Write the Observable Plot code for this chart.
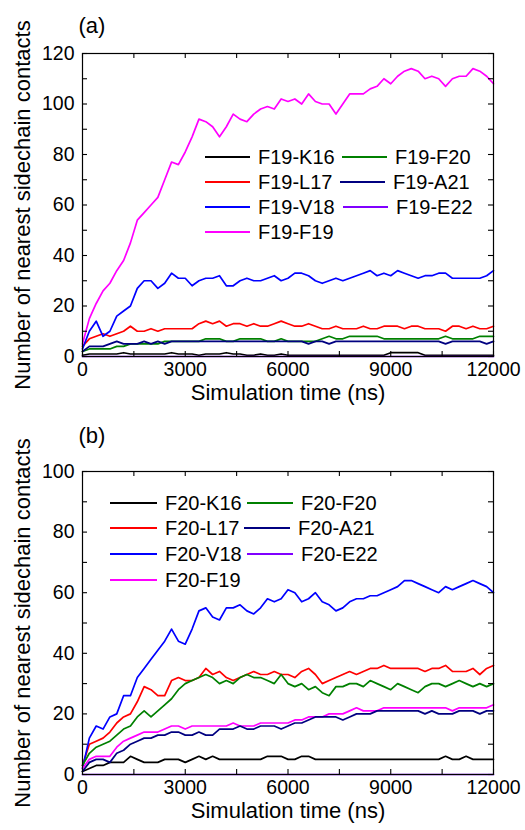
<!DOCTYPE html>
<html><head><meta charset="utf-8">
<script src="https://cdn.jsdelivr.net/npm/d3@7"></script>
<script src="https://cdn.jsdelivr.net/npm/@observablehq/plot@0.6"></script>
<style>
body{margin:0;background:#fff;font-family:"Liberation Sans",Arial,sans-serif;}
#wrap{position:relative;width:525px;height:830px;overflow:hidden;}
.panel{position:absolute;left:0;width:525px;}
.leg{position:absolute;font-size:20px;display:flex;align-items:center;white-space:nowrap;height:24px;color:#000;}
.leg .sw{display:inline-block;height:2px;margin-right:8px;}
</style></head><body><div id="wrap"></div>
<script>
const time = [0,200,400,600,800,1000,1200,1400,1600,1800,
  2000,2200,2400,2600,2800,3000,3200,3400,3600,3800,
  4000,4200,4400,4600,4800,5000,5200,5400,5600,5800,
  6000,6200,6400,6600,6800,7000,7200,7400,7600,7800,
  8000,8200,8400,8600,8800,9000,9200,9400,9600,9800,
  10000,10200,10400,10600,10800,11000,11200,11400,11600,11800,12000];

// Panel (a): F19 contacts
const a_K16 = [0.5,1,1,1,1,1,1.5,1,1,1, 1,1,1,1.5,1,1,1,0.5,1,1, 1,1.5,1,1,0.5,0.5,1,0.5,0.5,1,
  0.5,0.5,0.5,0.5,0.5,0.5,0.5,0.5,0.5,0.5, 0.5,0.5,0.5,0.5,0.5,1.5,1.5,1.5,1.5,1.5, 0.5,0.5,0.5,0.5,0.5,0.5,0.5,0.5,0.5,0.5, 0.5];
const a_L17 = [4,7,8,9,8,9,10,12,10,10, 11,10,11,11,11,11,11,13,14,13, 14,12,13,13,12,13,12,12,13,14,
  13,12,12,13,12,11,11,12,11,11, 11,12,11,11,12,12,12,11,12,12, 11,11,11,10,12,12,11,12,11,11, 12];
const a_V18 = [3,10,14,8,10,16,18,20,27,30, 30,27,29,33,31,31,28,30,31,31, 32,28,28,30,31,30,30,31,32,30,
  31,33,33,32,30,29,30,31,30,31, 32,33,34,32,33,32,34,33,32,31, 32,32,33,33,31,31,31,31,31,32, 34];
const a_F19 = [5,15,21,26,29,34,38,45,54,57, 60,63,70,77,76,81,87,94,93,91, 87,91,96,94,93,96,98,99,98,102,
  101,102,100,104,101,100,100,96,100,104, 104,104,106,107,110,108,111,113,114,113, 110,111,110,107,110,111,111,114,113,111, 108];
const a_F20 = [2,3,3,3,3,4,4,5,5,5, 5,5,6,6,6,6,6,6,7,7, 7,6,6,7,7,7,7,6,6,7,
  6,6,6,6,6,7,8,7,7,8, 8,8,8,8,7,7,7,7,7,7, 7,7,7,8,7,7,7,7,8,8, 8];
const a_A21 = [2,4,4,4,5,6,5,5,5,6, 5,6,5,6,6,6,6,6,6,6, 6,6,6,6,6,6,6,6,6,6,
  6,6,6,5,6,6,5,6,6,6, 6,6,6,6,6,6,6,6,6,6, 6,6,6,5,6,6,6,6,6,5, 6];
const a_E22 = [0,0,0,0,0,0,0,0,0,0, 0,0,0,0,0,0,0,0,0,0, 0,0,0,0,0,0,0,0,0,0,
  0,0,0,0,0,0,0,0,0,0, 0,0,0,0,0,0,0,0,0,0, 0,0,0,0,0,0,0,0,0,0, 0];

// Panel (b): F20 contacts
const b_K16 = [1,2,3,3,4,4,4,6,5,4, 4,4,5,5,5,4,5,6,5,6, 5,5,5,5,5,5,5,6,6,6,
  5,5,6,6,5,5,5,5,5,5, 5,5,5,5,5,5,5,5,5,5, 5,5,5,6,5,5,6,5,5,5, 5];
const b_L17 = [3,10,11,12,14,17,19,20,24,29, 28,26,26,31,32,31,31,32,35,33, 34,32,31,32,33,34,33,33,34,33,
  33,32,34,35,33,30,31,32,33,34, 33,34,35,35,36,35,35,35,35,35, 34,35,35,36,34,34,34,35,33,35, 36];
const b_V18 = [2,12,16,15,19,20,26,26,32,35, 38,41,44,48,44,43,48,54,55,52, 51,55,55,56,54,53,55,58,57,58,
  61,60,57,58,60,57,56,54,55,57, 58,58,59,59,60,61,62,64,64,63, 62,61,60,62,61,62,63,64,63,62, 60];
const b_F19 = [2,5,6,6,6,9,11,12,13,14, 14,14,15,16,16,15,16,16,16,16, 16,16,17,16,16,16,17,17,17,17,
  17,18,18,19,19,19,20,20,20,21, 22,21,21,21,22,22,22,22,22,22, 22,22,22,22,21,22,22,22,22,22, 23];
const b_F20 = [3,7,9,10,11,13,15,16,19,21, 19,21,23,25,28,30,31,32,33,32, 30,31,30,32,33,32,32,31,30,33,
  30,29,30,28,29,27,26,29,29,30, 30,29,31,30,29,28,30,29,28,27, 29,30,30,29,30,31,30,29,30,29, 30];
const b_A21 = [1,4,5,5,4,7,8,10,11,12, 12,13,13,14,14,13,13,14,13,13, 15,15,15,16,15,15,16,16,16,15,
  16,17,17,18,19,19,19,19,18,19, 20,20,20,21,21,21,21,21,21,21, 20,21,20,20,20,21,21,21,20,21, 21];
const b_E22 = [0,0,0,0,0,0,0,0,0,0, 0,0,0,0,0,0,0,0,0,0, 0,0,0,0,0,0,0,0,0,0,
  0,0,0,0,0,0,0,0,0,0, 0,0,0,0,0,0,0,0,0,0, 0,0,0,0,0,0,0,0,0,0, 0];

const namesA = ["F19-K16","F19-L17","F19-V18","F19-F19","F19-F20","F19-A21","F19-E22"];
const namesB = ["F20-K16","F20-L17","F20-V18","F20-F19","F20-F20","F20-A21","F20-E22"];
const seriesColors = ["#000000","#ff0000","#0000ff","#ff00ff","#008000","#000080","#8000ff"];

const xLabelTicks = [0,3000,6000,9000,12000];
const xMinorTicks = [0,1500,3000,4500,6000,7500,9000,10500,12000];
const yLabelTicksA = [0,20,40,60,80,100,120];
const yMinorTicksA = [0,10,20,30,40,50,60,70,80,90,100,110,120];
const yLabelTicksB = [0,20,40,60,80,100];
const yMinorTicksB = [0,10,20,30,40,50,60,70,80,90,100];

function tidy(names, arrays){
  const rows = [];
  names.forEach((n,i)=>arrays[i].forEach((v,j)=>rows.push({name:n, t:time[j], v})));
  return rows;
}

const W = 525, H = 415, ML = 82, MR = 32;
function panel(opts){
  const pw = W - ML - MR, ph = H - opts.mt - opts.mb;
  const TL = 5;
  return Plot.plot({
    width: W, height: H,
    marginLeft: ML, marginRight: MR, marginTop: opts.mt, marginBottom: opts.mb,
    style: {fontFamily: "'Liberation Sans', Arial, sans-serif", color: "#000", background: "#fff", overflow: "visible"},
    x: {domain: [0, 12000]},
    y: {domain: [0, opts.ymax]},
    color: {domain: opts.names, range: seriesColors},
    marks: [
      Plot.line(opts.data, {x: "t", y: "v", z: "name", stroke: "name", strokeWidth: 1.7, strokeLinejoin: "round"}),
      Plot.frame({stroke: "#000", strokeWidth: 1.2}),
      Plot.tickY(opts.yMinor, {y: d => d, insetRight: pw - TL, stroke: "#000", strokeWidth: 1.1}),
      Plot.tickY(opts.yMinor, {y: d => d, insetLeft: pw - TL, stroke: "#000", strokeWidth: 1.1}),
      Plot.tickX(xMinorTicks, {x: d => d, insetTop: ph - TL, stroke: "#000", strokeWidth: 1.1}),
      Plot.tickX(xMinorTicks, {x: d => d, insetBottom: ph - TL, stroke: "#000", strokeWidth: 1.1}),
      Plot.axisY(opts.yLabels, {tickSize: 0, tickPadding: 8, label: null, fontSize: 19.5}),
      Plot.axisX(xLabelTicks, {tickSize: 0, tickPadding: 6, label: null, fontSize: 19.5, tickFormat: d => String(d)}),
      Plot.text(["Number of nearest sidechain contacts"], {frameAnchor: "left", textAnchor: "middle", lineAnchor: "middle", rotate: -90, dx: -60, fontSize: 22, fill: "#000"}),
      Plot.text(["Simulation time (ns)"], {frameAnchor: "bottom", textAnchor: "middle", lineAnchor: "middle", dy: 36, fontSize: 22, fill: "#000"}),
      Plot.text([opts.tag], {frameAnchor: "top-left", textAnchor: "start", lineAnchor: "middle", dx: -4, dy: opts.tagDy, fontSize: 22, fill: "#000"})
    ]
  });
}

const wrap = document.getElementById("wrap");
function addPanel(top, chart, legend){
  const div = document.createElement("div");
  div.className = "panel"; div.style.top = top + "px";
  div.appendChild(chart);
  wrap.appendChild(div);
  legend.forEach(e => {
    const d = document.createElement("div");
    d.className = "leg";
    d.style.left = e.x + "px"; d.style.top = (e.y - 12) + "px";
    const sw = document.createElement("span");
    sw.className = "sw"; sw.style.width = e.w + "px"; sw.style.background = seriesColors[e.i];
    const tx = document.createElement("span"); tx.textContent = e.label;
    d.appendChild(sw); d.appendChild(tx);
    wrap.appendChild(d);
  });
}

const chartA = panel({data: tidy(namesA, [a_K16,a_L17,a_V18,a_F19,a_F20,a_A21,a_E22]), names: namesA,
  ymax: 120, yLabels: yLabelTicksA, yMinor: yMinorTicksA, mt: 53, mb: 59, tag: "(a)", tagDy: -28});
const chartB = panel({data: tidy(namesB, [b_K16,b_L17,b_V18,b_F19,b_F20,b_A21,b_E22]), names: namesB,
  ymax: 100, yLabels: yLabelTicksB, yMinor: yMinorTicksB, mt: 56, mb: 56, tag: "(b)", tagDy: -36});

addPanel(0, chartA, [
  {x:205, y:157, w:45, i:0, label:namesA[0]},
  {x:205, y:182, w:45, i:1, label:namesA[1]},
  {x:205, y:207, w:45, i:2, label:namesA[2]},
  {x:205, y:232, w:45, i:3, label:namesA[3]},
  {x:342, y:157, w:45, i:4, label:namesA[4]},
  {x:340, y:182, w:45, i:5, label:namesA[5]},
  {x:343, y:207, w:45, i:6, label:namesA[6]}
]);
addPanel(415, chartB, [
  {x:110, y:503, w:47, i:0, label:namesB[0]},
  {x:110, y:528, w:47, i:1, label:namesB[1]},
  {x:110, y:554, w:47, i:2, label:namesB[2]},
  {x:110, y:580, w:47, i:3, label:namesB[3]},
  {x:247, y:503, w:46, i:4, label:namesB[4]},
  {x:244, y:528, w:46, i:5, label:namesB[5]},
  {x:247, y:554, w:46, i:6, label:namesB[6]}
]);
</script></body></html>
